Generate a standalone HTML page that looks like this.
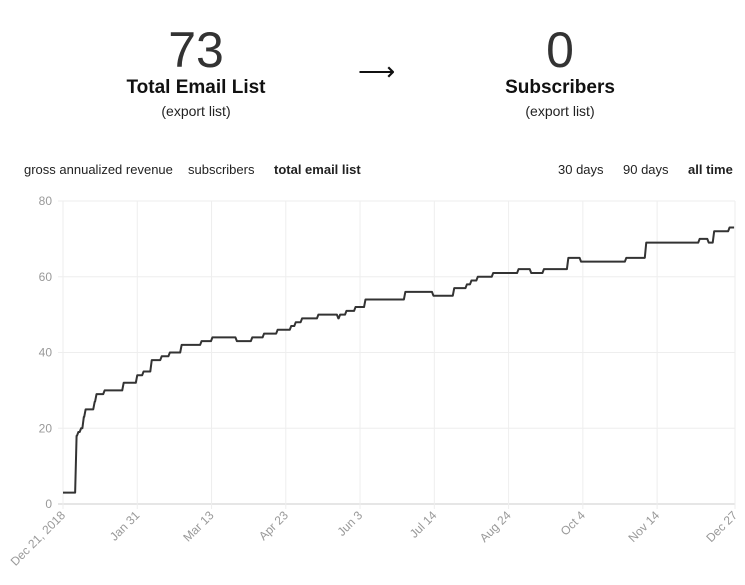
<!DOCTYPE html>
<html><head><meta charset="utf-8">
<style>
body{margin:0;width:745px;height:585px;background:#fff;font-family:"Liberation Sans",sans-serif;color:#111;overflow:hidden;position:relative}
.abs{position:absolute}
.big{font-size:50px;font-weight:300;text-align:center;width:200px;color:#333;-webkit-text-stroke:0}
.ttl{font-size:19px;font-weight:bold;text-align:center;width:240px}
.sub{font-size:14px;text-align:center;width:200px;color:#222}
.tab{font-size:13px;top:162px;color:#222}
</style></head><body>
<div class="abs big" style="left:96px;top:21px">73</div>
<div class="abs ttl" style="left:76px;top:77px">Total Email List</div>
<div class="abs sub" style="left:96px;top:103px">(export list)</div>
<div class="abs" style="left:358px;top:56px;font-size:26px">⟶</div>
<div class="abs big" style="left:460px;top:21px">0</div>
<div class="abs ttl" style="left:440px;top:77px">Subscribers</div>
<div class="abs sub" style="left:460px;top:103px">(export list)</div>
<div class="abs tab" style="left:24px">gross annualized revenue</div>
<div class="abs tab" style="left:188px">subscribers</div>
<div class="abs tab" style="left:274px;font-weight:bold">total email list</div>
<div class="abs tab" style="left:558px">30 days</div>
<div class="abs tab" style="left:623px">90 days</div>
<div class="abs tab" style="left:688px;font-weight:bold">all time</div>
<svg class="abs" style="left:0;top:0" width="745" height="585" id="chart"></svg>
<script>
const tickLabels=["Dec 21, 2018","Jan 31","Mar 13","Apr 23","Jun 3","Jul 14","Aug 24","Oct 4","Nov 14","Dec 27"];
const tickDays=[0,41,82,123,164,205,246,287,328,371];
const yTicks=[0,20,40,60,80];
const stepDays=[0,7.5,8.5,10,11.5,12.5,17.5,18.5,23,33.5,41,44.5,49,54.5,59,65.5,76.5,82.5,96,104.5,111,118.5,126,128.5,132,141,152,153,156.5,161.5,167,189,204.5,216,223,225.5,229,237.5,251.5,258.5,265.5,279,286,311,322,351.5,356.5,359.5,368];
const stepValues=[3,18,19,20,23,25,27,29,30,32,34,35,38,39,40,42,43,44,43,44,45,46,47,48,49,50,49,50,51,52,54,56,55,57,58,59,60,61,62,61,62,65,64,65,69,70,69,72,73];
const endDay=370.5;
const svg=document.getElementById('chart');const NS='http://www.w3.org/2000/svg';
const X0=63,X1=735,Y0=504,Y1=201;
const xs=d=>X0+(X1-X0)*d/371;const ys=v=>Y0-(Y0-Y1)*v/80;
function mk(t,a){const e=document.createElementNS(NS,t);for(const k in a)e.setAttribute(k,a[k]);svg.appendChild(e);return e;}
yTicks.forEach(v=>{const l=mk('line',{x1:X0-5,x2:X1,y1:ys(v),y2:ys(v),stroke:v===0?'#ccc':'#eee','stroke-width':1});


const t=mk('text',{x:52,y:ys(v)+4,'text-anchor':'end','font-size':12,fill:'#999','font-family':'Liberation Sans, sans-serif'});t.textContent=v;

});
tickDays.forEach((d,i)=>{const x=xs(d);const l=mk('line',{x1:x,x2:x,y1:Y1,y2:Y0+5,stroke:'#eee','stroke-width':1});


const t=mk('text',{x:x+3,y:Y0+12,'text-anchor':'end','font-size':12,fill:'#999','font-family':'Liberation Sans, sans-serif',transform:`rotate(-45 ${x+3} ${Y0+12})`});t.textContent=tickLabels[i];

});
const pts=[[stepDays[0],stepValues[0]]];
for(let i=1;i<stepDays.length;i++){pts.push([stepDays[i]-0.8,stepValues[i-1]]);pts.push([stepDays[i],stepValues[i]]);}
pts.push([endDay,stepValues[stepValues.length-1]]);
const p=mk('polyline',{points:pts.map(q=>xs(q[0])+','+ys(q[1])).join(' '),fill:'none',stroke:'#333','stroke-width':2,'stroke-linejoin':'round'});


</script>
</body></html>
